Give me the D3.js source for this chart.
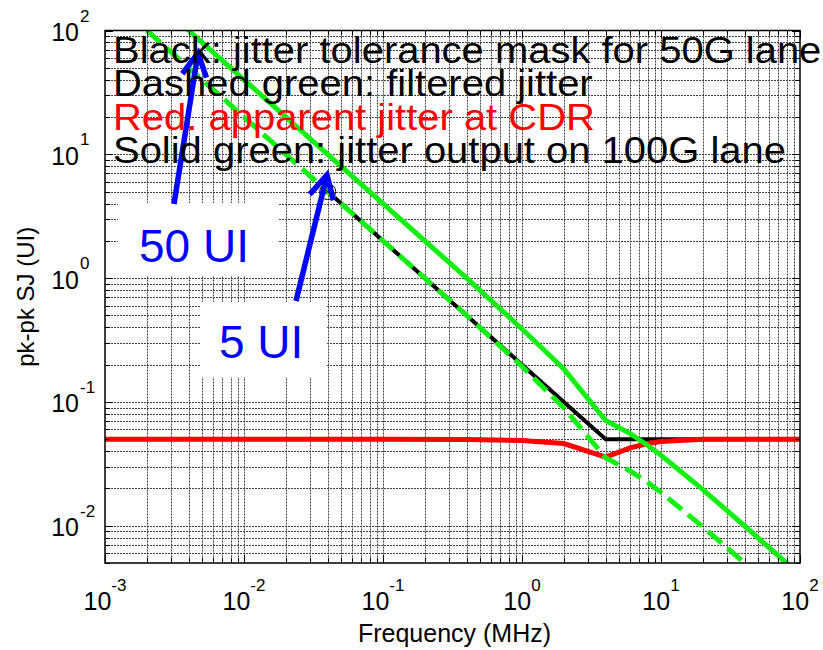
<!DOCTYPE html>
<html><head><meta charset="utf-8">
<script src="https://cdn.jsdelivr.net/npm/d3@7"></script>
<style>body{margin:0;background:#fff} svg text{font-family:"Liberation Sans",Arial,Helvetica,sans-serif}</style>
</head><body>
<svg id="c" width="823" height="650"></svg>
<script>
// ---- data ----
const maskFreq   = [0.04, 0.1, 0.4, 1, 2, 4, 10, 20, 40, 100];            // MHz
const maskJitter = [5, 2, 0.5, 0.2, 0.1, 0.05, 0.05, 0.05, 0.05, 0.05];    // UI, black

const cdrFreq    = [0.001, 0.01, 0.1, 0.4, 1, 2, 4, 6, 8, 10, 20, 40, 100];
const cdrJitter  = [0.05, 0.05, 0.05, 0.0498, 0.0487, 0.0461, 0.0358, 0.0425, 0.0461, 0.0479, 0.05, 0.05, 0.05]; // red

const filtFreq   = [0.002, 0.004, 0.01, 0.04, 0.1, 0.4, 1, 2, 4, 6, 8, 10, 20, 40, 100];
const filtJitter = [100, 50, 20, 5, 2, 0.5, 0.194, 0.0894, 0.0354, 0.0277, 0.0224, 0.0186, 0.0098, 0.005, 0.002]; // dashed green

const outFreq    = [0.002, 0.004, 0.01, 0.04, 0.1, 0.4, 1, 2, 4, 6, 8, 10, 20, 40, 100];
const outJitter  = [200, 100, 40, 10, 4, 1, 0.388, 0.185, 0.0707, 0.0555, 0.0447, 0.0371, 0.0196, 0.00995, 0.004]; // solid green

const markerPoint = [0.04, 5];

const xTickValues = [1e-3, 1e-2, 1e-1, 1, 10, 100];
const xTickExp    = ["-3", "-2", "-1", "0", "1", "2"];
const yTickValues = [1e-2, 1e-1, 1, 10, 100];
const yTickExp    = ["-2", "-1", "0", "1", "2"];

const legendLines = [
  {text: "Black: jitter tolerance mask for 50G lane", color: "#000"},
  {text: "Dashed green: filtered jitter", color: "#000"},
  {text: "Red. apparent jitter at CDR", color: "#ff0000"},
  {text: "Solid green: jitter output on 100G lane", color: "#000"}
];
const xLabel = "Frequency (MHz)";
const yLabel = "pk-pk SJ (UI)";

// ---- layout ----
const L = 105, R = 800, T = 30.5, B = 563;
const svg = d3.select("#c");
const x = d3.scaleLog().domain([1e-3, 1e2]).range([L, R]);
const y = d3.scaleLog().domain([0.005, 100]).range([B, T]);

svg.append("rect").attr("width", 823).attr("height", 650).attr("fill", "#fff");

// grid values
const xGrid = [], yGrid = [];
for (let e = -3; e <= 1; e++) for (let m = 1; m <= 9; m++) xGrid.push({v: m * Math.pow(10, e), major: m === 1});
xGrid.push({v: 100, major: true});
for (let e = -3; e <= 1; e++) for (let m = 1; m <= 9; m++) {
  const v = m * Math.pow(10, e);
  if (v >= 0.005 - 1e-12) yGrid.push({v, major: m === 1});
}
yGrid.push({v: 100, major: true});

const grid = svg.append("g").attr("stroke", "#222").attr("stroke-width", 1).attr("stroke-dasharray", "2,1").attr("opacity", 0.85);
grid.selectAll(".gx").data(xGrid.filter(d => d.v > 1e-3 && d.v < 100)).join("line")
  .attr("x1", d => Math.round(x(d.v)) + 0.5).attr("x2", d => Math.round(x(d.v)) + 0.5)
  .attr("y1", T).attr("y2", B);
grid.selectAll(".gy").data(yGrid.filter(d => d.v > 0.005 && d.v < 100)).join("line")
  .attr("y1", d => Math.round(y(d.v)) + 0.5).attr("y2", d => Math.round(y(d.v)) + 0.5)
  .attr("x1", L).attr("x2", R);

// clip
svg.append("clipPath").attr("id", "plotclip").append("rect")
  .attr("x", L).attr("y", T).attr("width", R - L).attr("height", B - T);

const line = d3.line().x(d => x(d[0])).y(d => y(d[1]));
const plot = svg.append("g").attr("clip-path", "url(#plotclip)");

plot.append("path").datum(d3.zip(maskFreq, maskJitter)).attr("d", line)
  .attr("fill", "none").attr("stroke", "#000").attr("stroke-width", 4);
plot.append("path").datum(d3.zip(cdrFreq, cdrJitter)).attr("d", line)
  .attr("fill", "none").attr("stroke", "#ff0000").attr("stroke-width", 5);
plot.append("path").datum(d3.zip(filtFreq, filtJitter)).attr("d", line)
  .attr("fill", "none").attr("stroke", "#11f011").attr("stroke-width", 5).attr("stroke-dasharray", "18,8");
plot.append("path").datum(d3.zip(outFreq, outJitter)).attr("d", line)
  .attr("fill", "none").attr("stroke", "#11f011").attr("stroke-width", 5);

// marker
const mx = x(markerPoint[0]), my = y(markerPoint[1]);
const mk = svg.append("g").attr("stroke", "#000").attr("stroke-width", 1).attr("fill", "none");
mk.append("circle").attr("cx", mx).attr("cy", my).attr("r", 8);
mk.append("line").attr("x1", mx - 5.5).attr("y1", my - 5.5).attr("x2", mx + 5.5).attr("y2", my + 5.5);
mk.append("line").attr("x1", mx - 5.5).attr("y1", my + 5.5).attr("x2", mx + 5.5).attr("y2", my - 5.5);

// ticks
const tk = svg.append("g").attr("stroke", "#000").attr("stroke-width", 1);
xGrid.forEach(d => {
  const px = Math.round(x(d.v)) + 0.5, len = d.major ? 8 : 5;
  tk.append("line").attr("x1", px).attr("x2", px).attr("y1", B).attr("y2", B - len);
  tk.append("line").attr("x1", px).attr("x2", px).attr("y1", T).attr("y2", T + len);
});
yGrid.forEach(d => {
  const py = Math.round(y(d.v)) + 0.5, len = d.major ? 8 : 5;
  tk.append("line").attr("y1", py).attr("y2", py).attr("x1", L).attr("x2", L + len);
  tk.append("line").attr("y1", py).attr("y2", py).attr("x1", R).attr("x2", R - len);
});

// axes box
svg.append("rect").attr("x", L).attr("y", T).attr("width", R - L).attr("height", B - T)
  .attr("fill", "none").attr("stroke", "#000").attr("stroke-width", 1.5);

// tick labels
xTickValues.forEach((v, i) => {
  const t = svg.append("text").attr("x", x(v)).attr("y", 610).attr("text-anchor", "middle")
    .attr("font-size", 25).attr("fill", "#000");
  t.append("tspan").text("10");
  t.append("tspan").attr("font-size", 17).attr("dy", -19).text(xTickExp[i]);
});
yTickValues.forEach((v, i) => {
  const py = y(v);
  svg.append("text").attr("x", 79).attr("y", py + 10.5).attr("text-anchor", "end")
    .attr("font-size", 25).text("10");
  svg.append("text").attr("x", 80).attr("y", py - 9).attr("text-anchor", "start")
    .attr("font-size", 17).text(yTickExp[i]);
});

// axis labels
svg.append("text").attr("x", (L + R) / 2 + 2).attr("y", 642).attr("text-anchor", "middle")
  .attr("font-size", 25).text(xLabel);
svg.append("text").attr("transform", `translate(34,${(T + B) / 2}) rotate(-90)`)
  .attr("text-anchor", "middle").attr("font-size", 24).text(yLabel);

// annotation boxes
svg.append("rect").attr("x", 118).attr("y", 203).attr("width", 161).attr("height", 73).attr("fill", "#fff");
svg.append("rect").attr("x", 200).attr("y", 302).attr("width", 127).attr("height", 75).attr("fill", "#fff");
svg.append("text").attr("x", 139).attr("y", 262).attr("font-size", 46).attr("fill", "#0000ff").text("50 UI");
svg.append("text").attr("x", 219).attr("y", 358).attr("font-size", 46).attr("fill", "#0000ff").text("5 UI");

// arrows
function arrow(x0, y0, x1, y1) {
  const dx = x1 - x0, dy = y1 - y0, len = Math.hypot(dx, dy);
  const bx = -dx / len, by = -dy / len, hl = 26, a = 28 * Math.PI / 180;
  const r = (ang) => [x1 + hl * (bx * Math.cos(ang) - by * Math.sin(ang)), y1 + hl * (bx * Math.sin(ang) + by * Math.cos(ang))];
  const p1 = r(a), p2 = r(-a);
  const g = svg.append("g").attr("stroke", "#0000ff").attr("stroke-width", 5.5).attr("fill", "none");
  g.append("line").attr("x1", x0).attr("y1", y0).attr("x2", x1).attr("y2", y1);
  g.append("path").attr("d", `M${p1[0]},${p1[1]}L${x1},${y1}L${p2[0]},${p2[1]}`).attr("stroke-linejoin", "miter");
}
arrow(174, 204, 198, 53);
arrow(296, 301, 327, 175);

// legend text
const lg = svg.append("g").attr("transform", "translate(113,0) scale(1.08,1)");
legendLines.forEach((d, i) => {
  lg.append("text").attr("x", 0).attr("y", 63 + i * 33.4).attr("font-size", 37)
    .attr("fill", d.color).text(d.text);
});
</script>
</body></html>
